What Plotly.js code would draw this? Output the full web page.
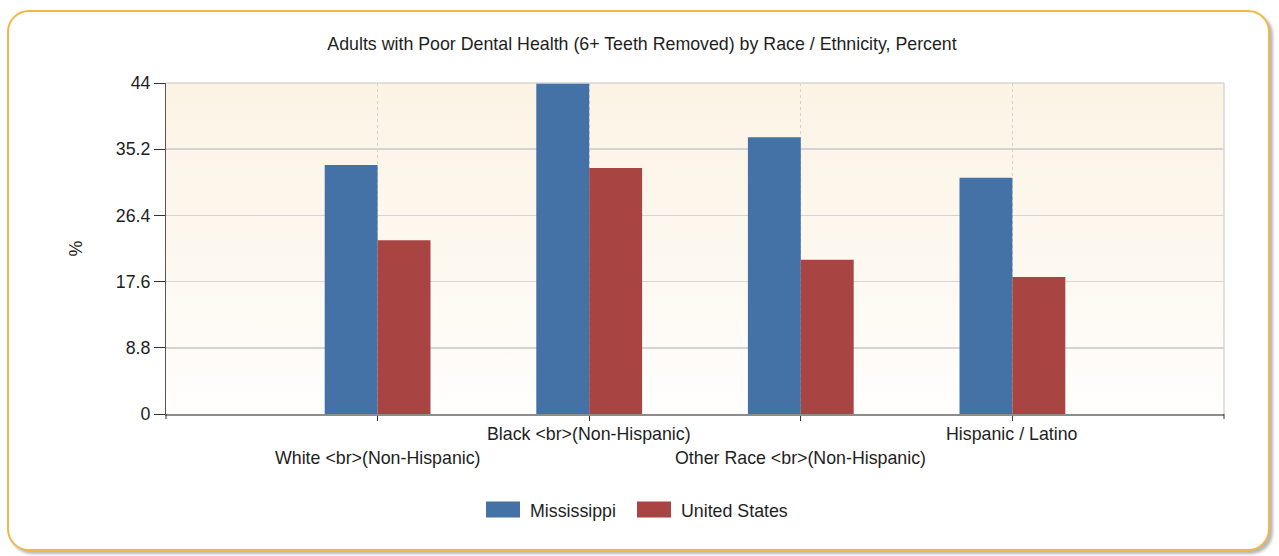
<!DOCTYPE html>
<html>
<head>
<meta charset="utf-8">
<script src="https://cdn.plot.ly/plotly-3.0.1.min.js"></script>
<style>
  html, body { margin: 0; padding: 0; background: #ffffff; }
  #wrap { position: relative; width: 1279px; height: 556px; overflow: hidden; }
  #frame {
    position: absolute; left: 7px; top: 10px; width: 1259px; height: 537px;
    border: 2px solid #F2B74A; border-radius: 22px; background: #ffffff;
    box-shadow: 3px 3px 3px #b8b8b8;
  }
  #plotbg {
    position: absolute; left: 166px; top: 83px; width: 1058px; height: 331px;
    background: linear-gradient(to bottom, #FCF3E4 0%, #FDF8EF 50%, #FFFEFD 100%);
  }
  #chart { position: absolute; left: 0; top: 0; width: 1279px; height: 556px; }
</style>
</head>
<body>
<div id="wrap">
  <div id="frame"></div>
  <div id="plotbg"></div>
  <div id="chart"></div>
</div>
<script>
const categories = [
  "White &lt;br&gt;(Non-Hispanic)",
  "Black &lt;br&gt;(Non-Hispanic)",
  "Other Race &lt;br&gt;(Non-Hispanic)",
  "Hispanic / Latino"
];
const mississippi = [33.1, 44.2, 36.8, 31.4];
const unitedStates = [23.1, 32.7, 20.5, 18.2];
const yTicks = [0, 8.8, 17.6, 26.4, 35.2, 44];
const chartTitle = "Adults with Poor Dental Health (6+ Teeth Removed) by Race / Ethnicity, Percent";

const FONT = "Liberation Sans, Arial, sans-serif";
const FS = 17.8;

const traces = [
  { type: "bar", name: "Mississippi", x: categories, y: mississippi,
    marker: { color: "#4472A7", line: { width: 0 } }, hoverinfo: "y+name" },
  { type: "bar", name: "United States", x: categories, y: unitedStates,
    marker: { color: "#A84543", line: { width: 0 } }, hoverinfo: "y+name" }
];

const annotations = categories.map((c, i) => ({
  x: c, xref: "x", y: 0, yref: "y",
  text: c, showarrow: false,
  yanchor: "middle", xanchor: "center",
  yshift: (i % 2 === 0) ? -44 : -20,
  font: { family: FONT, size: FS, color: "#1e1e1e" }
}));

const layout = {
  width: 1279, height: 556,
  paper_bgcolor: "rgba(0,0,0,0)",
  plot_bgcolor: "rgba(0,0,0,0)",
  margin: { l: 166, r: 55, t: 83, b: 142 },
  title: { text: chartTitle, x: (642 - 166) / 1058, xref: "paper", xanchor: "center",
           y: 1 - 44 / 556, yref: "container", yanchor: "middle",
           font: { family: FONT, size: FS, color: "#1e1e1e" } },
  barmode: "group",
  bargap: 0.5,
  bargroupgap: 0,
  xaxis: {
    type: "category",
    categoryorder: "array", categoryarray: categories,
    range: [-1, categories.length],
    showticklabels: false,
    ticks: "outside", ticklen: 5, tickcolor: "#333333", tickwidth: 1,
    showgrid: true, gridcolor: "#D2D2D2", griddash: "dot", gridwidth: 1,
    showline: true, linecolor: "#8C8C8C", linewidth: 2,
    mirror: false, zeroline: false, fixedrange: true
  },
  yaxis: {
    range: [0, 44],
    tickvals: yTicks, ticktext: yTicks.map(String),
    ticks: "outside", ticklen: 11, tickcolor: "#333333", tickwidth: 1,
    tickfont: { family: FONT, size: FS, color: "#1e1e1e" },
    showgrid: true, gridcolor: "#D4D4D4", gridwidth: 1.5,
    showline: true, linecolor: "#555555", linewidth: 1,
    zeroline: false, fixedrange: true,
    title: { text: "%", standoff: 28, font: { family: FONT, size: FS, color: "#1e1e1e" } }
  },
  shapes: [
    { type: "line", xref: "paper", yref: "paper", x0: 0, x1: 1, y0: 1, y1: 1,
      line: { color: "#D6D6D6", width: 1.5 } },
    { type: "line", xref: "paper", yref: "paper", x0: 1, x1: 1, y0: 0, y1: 1,
      line: { color: "#D6D6D6", width: 1.5 } },
    { type: "line", xref: "paper", yref: "paper", x0: 0, x1: 0, y0: 0, y1: -5 / 331,
      line: { color: "#333333", width: 1 } },
    { type: "line", xref: "paper", yref: "paper", x0: 1, x1: 1, y0: 0, y1: -5 / 331,
      line: { color: "#333333", width: 1 } }
  ],
  annotations: annotations,
  showlegend: true,
  legend: {
    orientation: "h", x: (637 - 166) / 1058, xanchor: "center",
    y: (414 - 510) / 331, yanchor: "middle",
    font: { family: FONT, size: FS, color: "#1e1e1e" },
    bgcolor: "rgba(0,0,0,0)", itemwidth: 34, traceorder: "normal",
    entrywidth: 102, entrywidthmode: "pixels"
  },
  hovermode: false
};

Plotly.newPlot("chart", traces, layout, { displayModeBar: false, staticPlot: true }).then(() => {
  // widen legend swatches to match the reference's rectangular keys
  document.querySelectorAll("#chart .legend .legendpoints path").forEach(p => {
    p.setAttribute("d", "M12,8H-22V-8H12Z");
  });
});
</script>
</body>
</html>
